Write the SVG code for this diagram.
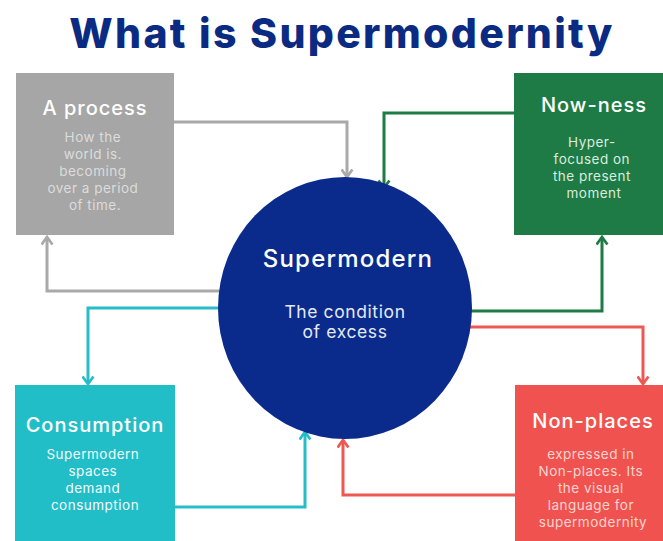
<svg xmlns="http://www.w3.org/2000/svg" width="663" height="541" viewBox="0 0 663 541">
  <defs>
    <style>
      .title { font-family: Inter, "Liberation Sans", sans-serif; font-weight: 800; font-size: 41px; letter-spacing: 2.3px; fill: #0b2b82; text-anchor: middle; }
      .head { font-family: Inter, "Liberation Sans", sans-serif; font-weight: 500; font-size: 20px; letter-spacing: 1px; fill: #ffffff; text-anchor: middle; }
      .head-lg { font-size: 24px; letter-spacing: 1.2px; }
      .body { font-family: Inter, "Liberation Sans", sans-serif; font-size: 13.5px; letter-spacing: 0.5px; text-anchor: middle; }
      .body-lg { font-size: 17.5px; letter-spacing: 0.6px; fill: #e4e8f4; }
      .link { fill: none; stroke-width: 3; stroke-linejoin: miter; }
    </style>
    <marker id="ah-gray" viewBox="0 0 12 12" refX="10" refY="6" markerWidth="13" markerHeight="13" markerUnits="userSpaceOnUse" orient="auto">
      <path d="M3,1 L10,6 L3,11" fill="none" stroke="#a9a9a9" stroke-width="2.5"/>
    </marker>
    <marker id="ah-green" viewBox="0 0 12 12" refX="10" refY="6" markerWidth="13" markerHeight="13" markerUnits="userSpaceOnUse" orient="auto">
      <path d="M3,1 L10,6 L3,11" fill="none" stroke="#1f7b45" stroke-width="2.5"/>
    </marker>
    <marker id="ah-teal" viewBox="0 0 12 12" refX="10" refY="6" markerWidth="13" markerHeight="13" markerUnits="userSpaceOnUse" orient="auto">
      <path d="M3,1 L10,6 L3,11" fill="none" stroke="#25bdc7" stroke-width="2.5"/>
    </marker>
    <marker id="ah-red" viewBox="0 0 12 12" refX="10" refY="6" markerWidth="13" markerHeight="13" markerUnits="userSpaceOnUse" orient="auto">
      <path d="M3,1 L10,6 L3,11" fill="none" stroke="#ee5853" stroke-width="2.5"/>
    </marker>
  </defs>

  <rect width="663" height="541" fill="#ffffff"/>

  <text class="title" x="342" y="48">What is Supermodernity</text>

  <!-- connectors -->
  <g id="connectors">
    <path class="link" stroke="#a9a9a9" marker-end="url(#ah-gray)" d="M174,122 H347 V177"/>
    <path class="link" stroke="#a9a9a9" marker-end="url(#ah-gray)" d="M222,291 H47 V237"/>
    <path class="link" stroke="#1f7b45" marker-end="url(#ah-green)" d="M514,113 H384 V188"/>
    <path class="link" stroke="#1f7b45" marker-end="url(#ah-green)" d="M468,311 H602 V237"/>
    <path class="link" stroke="#25bdc7" marker-end="url(#ah-teal)" d="M222,308 H88 V384"/>
    <path class="link" stroke="#25bdc7" marker-end="url(#ah-teal)" d="M175,507 H305 V432"/>
    <path class="link" stroke="#ee5853" marker-end="url(#ah-red)" d="M466,327 H643 V384"/>
    <path class="link" stroke="#ee5853" marker-end="url(#ah-red)" d="M515,495 H343 V440"/>
  </g>

  <g id="process">
    <rect x="16" y="73" width="158" height="162" fill="#a6a6a6"/>
    <text class="head" x="95" y="115">A process</text>
    <text class="body" fill="#dcdcdc">
      <tspan x="95" y="142">How the</tspan>
      <tspan x="95" y="159">world is.</tspan>
      <tspan x="95" y="176">becoming</tspan>
      <tspan x="95" y="193">over a period</tspan>
      <tspan x="95" y="210">of time.</tspan>
    </text>
  </g>

  <g id="nowness">
    <rect x="514" y="73" width="149" height="162" fill="#1e7b45"/>
    <text class="head" x="594" y="112">Now-ness</text>
    <text class="body" fill="#d9ecdf">
      <tspan x="594" y="147">Hyper-</tspan>
      <tspan x="594" y="164">focused on</tspan>
      <tspan x="594" y="181">the present</tspan>
      <tspan x="594" y="198">moment</tspan>
    </text>
  </g>

  <g id="supermodern">
    <ellipse cx="345" cy="308" rx="127" ry="131" fill="#0a2b8b"/>
    <text class="head head-lg" x="348" y="267">Supermodern</text>
    <text class="body body-lg" x="345" y="318">The condition</text>
    <text class="body body-lg" x="345" y="338">of excess</text>
  </g>

  <g id="consumption">
    <rect x="15" y="385" width="160" height="156" fill="#22bec8"/>
    <text class="head" x="95" y="432">Consumption</text>
    <text class="body" fill="#f2fbfc">
      <tspan x="95" y="459">Supermodern</tspan>
      <tspan x="95" y="476">spaces</tspan>
      <tspan x="95" y="493">demand</tspan>
      <tspan x="95" y="510">consumption</tspan>
    </text>
  </g>

  <g id="nonplaces">
    <rect x="515" y="385" width="148" height="156" fill="#f0534f"/>
    <text class="head" x="593" y="428">Non-places</text>
    <text class="body" fill="#f9d3cf">
      <tspan x="593" y="459">expressed in</tspan>
      <tspan x="593" y="476">Non-places. Its</tspan>
      <tspan x="593" y="493">the visual</tspan>
      <tspan x="593" y="510">language for</tspan>
      <tspan x="593" y="527">supermodernity</tspan>
    </text>
  </g>
</svg>
